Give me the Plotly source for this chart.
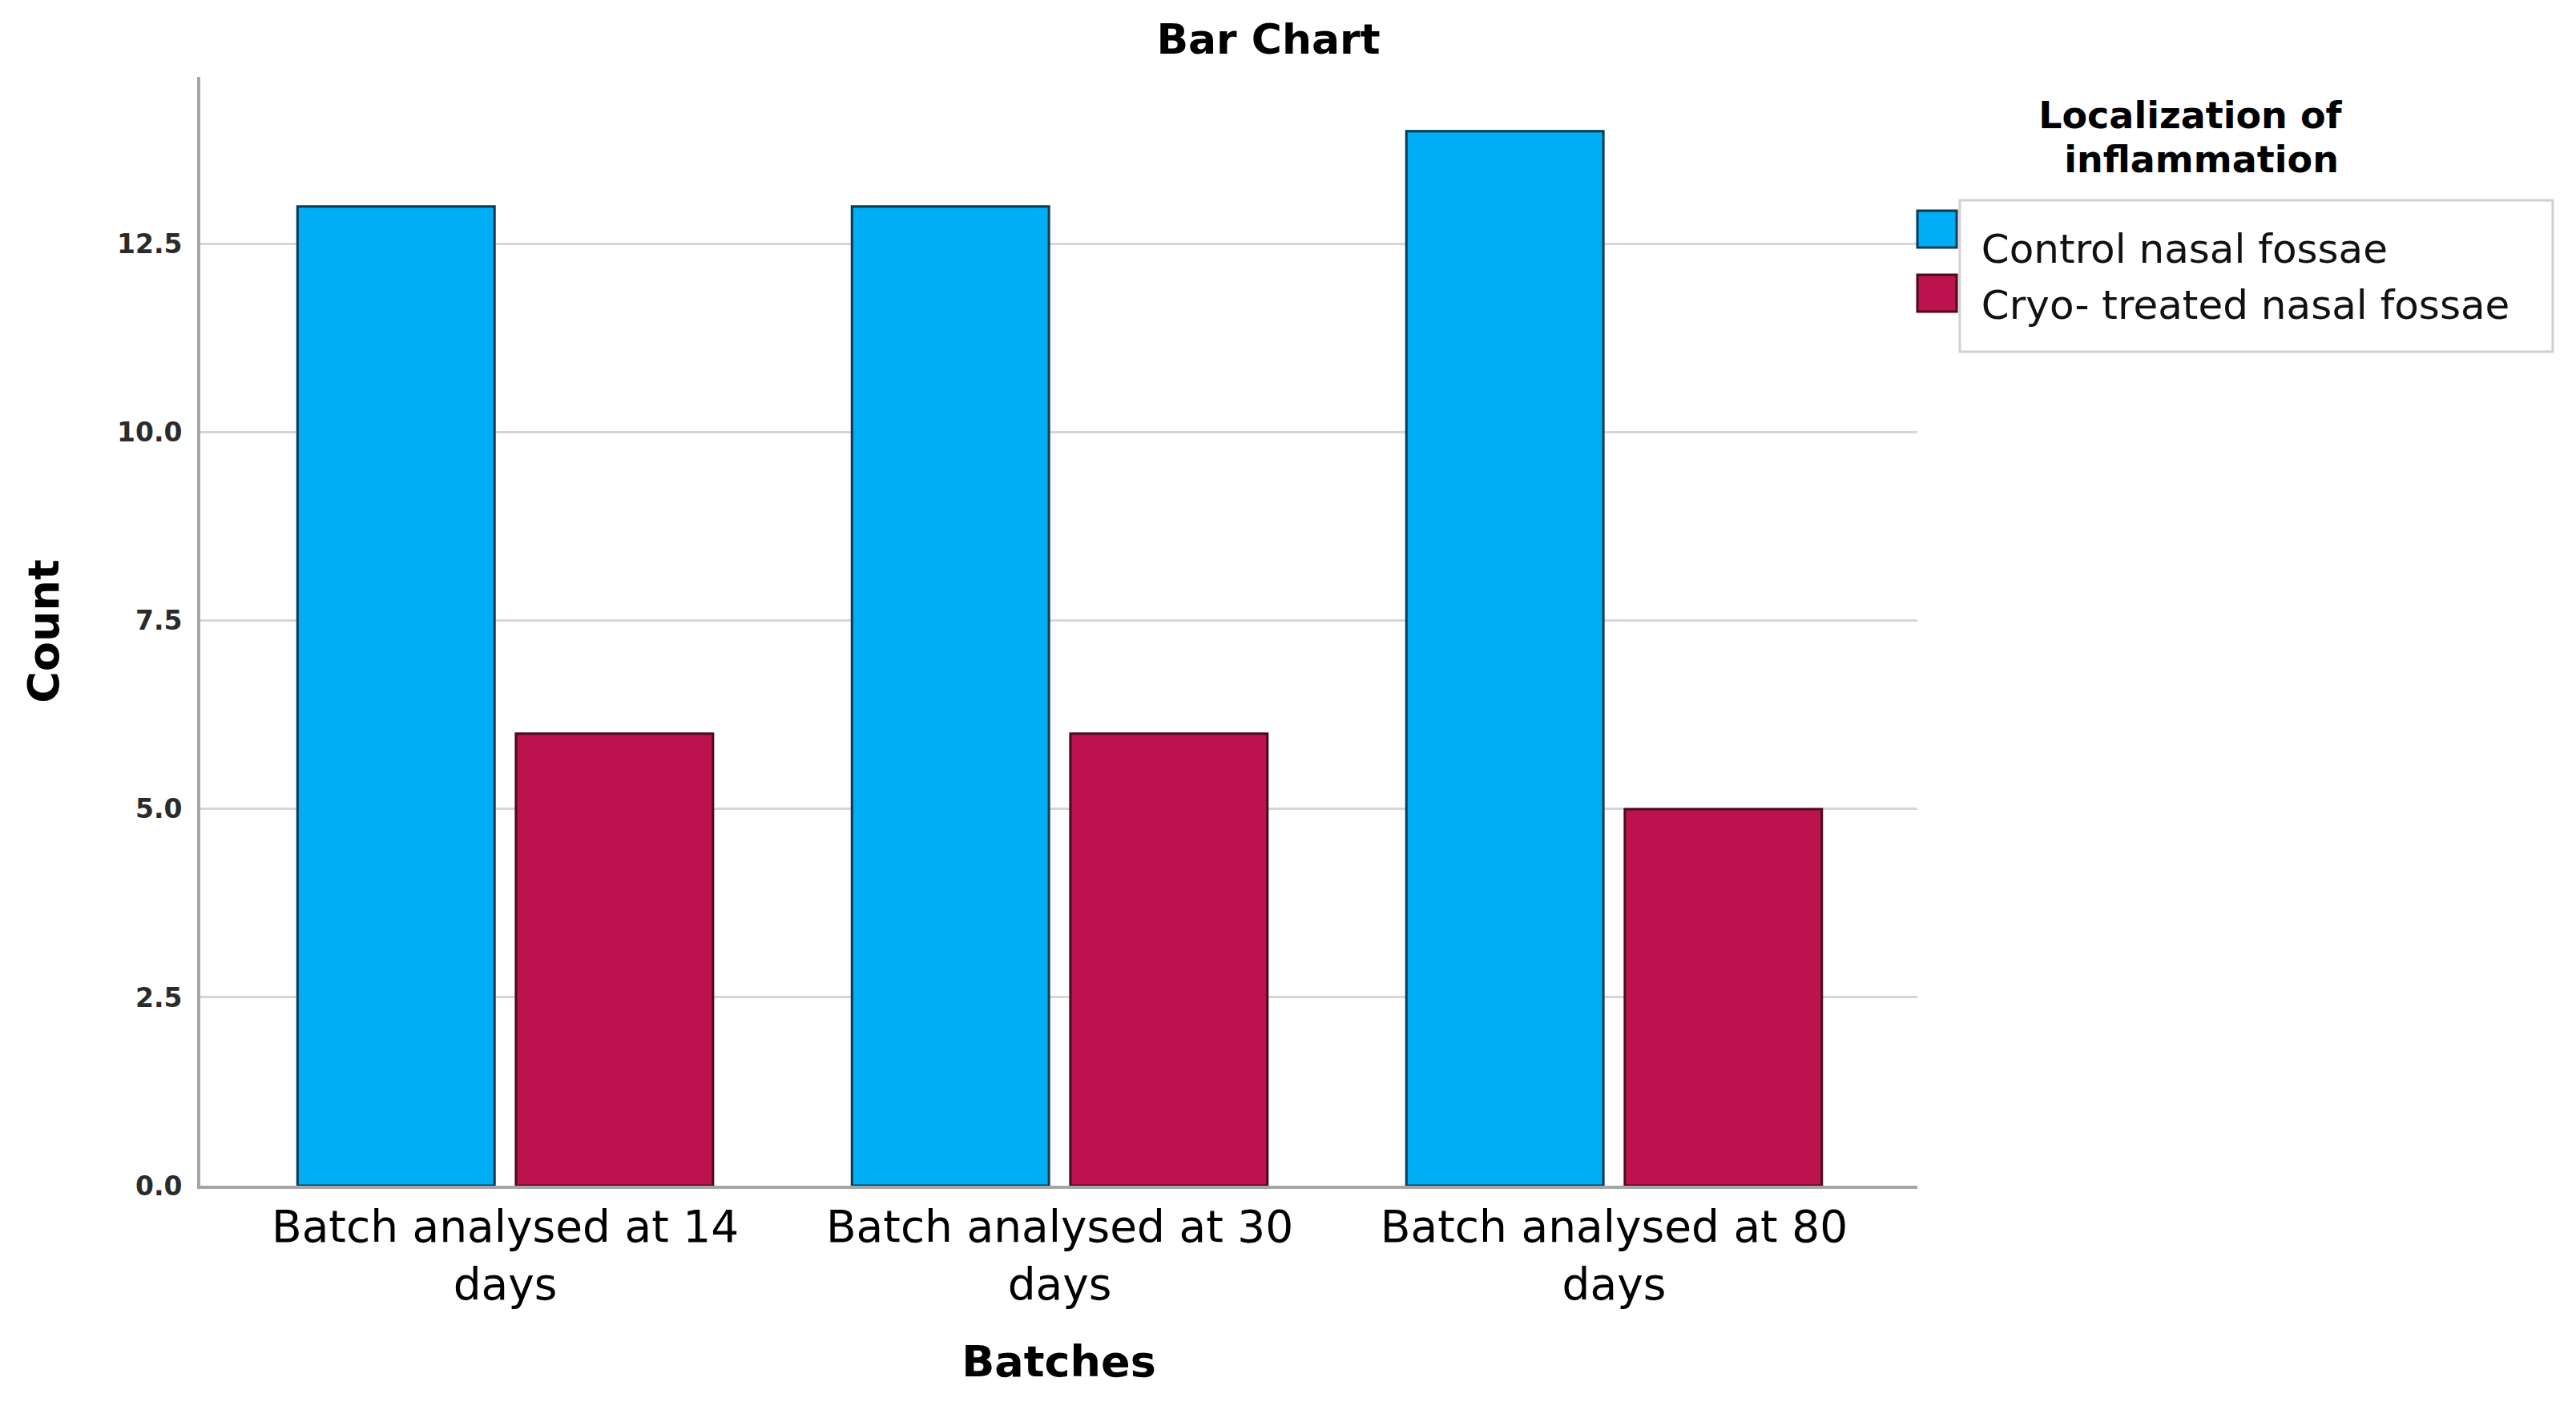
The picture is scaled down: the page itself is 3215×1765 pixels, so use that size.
import plotly.graph_objects as go

# ---- data ----
categories = ["Batch analysed at 14 days", "Batch analysed at 30 days", "Batch analysed at 80 days"]
tick_labels = ["Batch analysed at 14<br>days", "Batch analysed at 30<br>days", "Batch analysed at 80<br>days"]
control_counts = [13, 13, 14]
cryo_counts = [6, 6, 5]
series_names = ["Control nasal fossae", "Cryo- treated nasal fossae"]
series_colors = ["#00AEF5", "#BC134E"]
series_edges = ["#0B3A52", "#4A0A1F"]

W, H = 3215, 1765
OFF = 8  # page body margin
L, T = 250 - OFF, 96 - OFF
R = W - (2393 - OFF)
B = H - (1480 - OFF)
FONT = "DejaVu Sans"

fig = go.Figure()
groups = ["control", "cryo"]
for vals, name, col, edge, grp in zip([control_counts, cryo_counts], series_names,
                                      series_colors, series_edges, groups):
    fig.add_trace(go.Bar(
        x=categories, y=vals, name=name, legendgroup=grp, showlegend=False,
        marker=dict(color=col, line=dict(color=edge, width=3)),
    ))
# legend entries (linked to the bars through legendgroup); their swatches are drawn
# as large SPSS-style squares to the left of the legend frame
for name, grp in zip(series_names, groups):
    fig.add_trace(go.Scatter(
        x=[categories[0]], y=[None], mode="markers", name=name, legendgroup=grp,
        showlegend=True, marker=dict(color="rgba(0,0,0,0)", size=1), hoverinfo="skip",
    ))

swatch_shapes = []
for col, edge, (y0, y1) in zip(series_colors, series_edges,
                               [(0.8461, 0.8793), (0.7883, 0.8215)]):
    swatch_shapes.append(dict(type="rect", xref="paper", yref="paper",
                              x0=1.0, x1=1.0229, y0=y0, y1=y1,
                              fillcolor=col, line=dict(color=edge, width=3),
                              layer="above"))

legend_title = ("<span style='font-size:46px'><b>Localization of&nbsp;&nbsp;<br>"
                "&nbsp;&nbsp;inflammation</b></span><br>")

fig.update_layout(
    width=W, height=H,
    margin=dict(l=L, r=R, t=T, b=B, autoexpand=False),
    paper_bgcolor="white", plot_bgcolor="white",
    font=dict(family=FONT, color="black"),
    barmode="group", bargap=0.212, bargroupgap=0.098,
    title=dict(text="<b>Bar Chart</b>", x=(1583 - OFF) / W, xanchor="center",
               y=1 - (49 - OFF) / H, yanchor="middle",
               font=dict(family=FONT, size=52, color="black")),
    legend=dict(
        x=0.985, xanchor="left", y=0.9932, yanchor="top",
        title=dict(text=legend_title, side="top center",
                   font=dict(family=FONT, size=42, color="black")),
        font=dict(family=FONT, size=50, color="#111111"),
        bgcolor="rgba(0,0,0,0)", borderwidth=0,
        itemwidth=102, tracegroupgap=2,
    ),
    shapes=[dict(type="rect", xref="paper", yref="paper",
                 x0=1.0247, x1=1.370, y0=0.7522, y1=0.8887,
                 line=dict(color="#d0d0d0", width=3), fillcolor="rgba(0,0,0,0)",
                 layer="below")] + swatch_shapes,
)

fig.update_xaxes(
    type="category", range=[-0.55, 2.547],
    tickmode="array", tickvals=categories, ticktext=tick_labels,
    tickfont=dict(family=FONT, size=55, color="black"),
    showline=True, linecolor="#a6a6a6", linewidth=4,
    ticks="", showgrid=False,
    title=dict(text="<b>Batches</b>", font=dict(family=FONT, size=54, color="black"), standoff=48),
)
fig.update_yaxes(
    range=[0, 14.72], dtick=2.5, tick0=0, tickformat=".1f",
    tickfont=dict(family=FONT, size=33, color="#2b2b2b", weight="bold"),
    showline=True, linecolor="#a6a6a6", linewidth=4,
    showgrid=True, gridcolor="#d6d6d6", gridwidth=3,
    zeroline=False, ticks="", ticklabelstandoff=12,
    title=dict(text="<b>Count</b>", font=dict(family=FONT, size=54, color="black"), standoff=56),
)

fig.write_html("out.html")
